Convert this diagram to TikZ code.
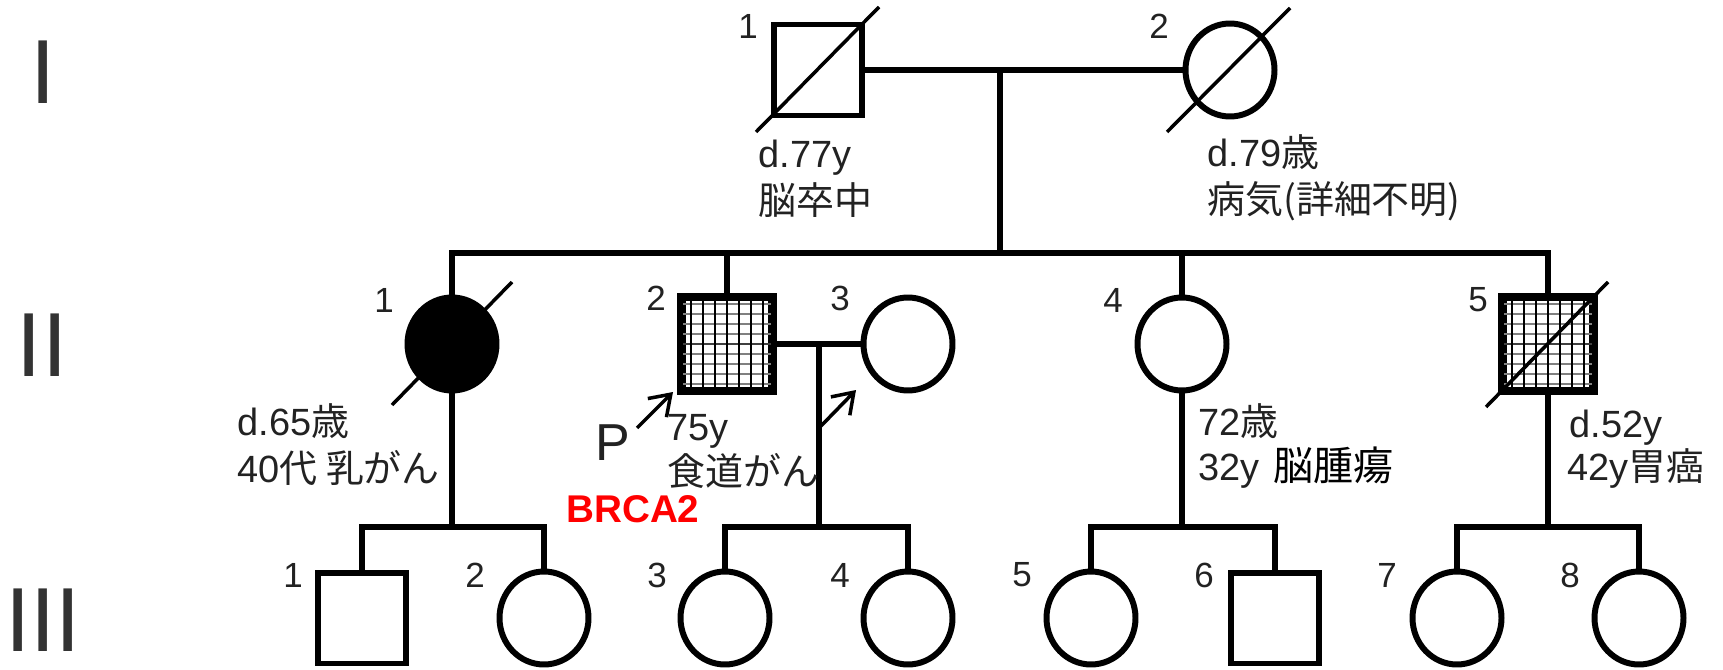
\documentclass[tikz,border=0pt]{standalone}
\usepackage{fontspec}
\setmainfont{Liberation Sans}
\newfontfamily\jp{Noto Sans CJK JP}
\usetikzlibrary{shapes.geometric,arrows.meta}
\definecolor{txt}{HTML}{222222}
\definecolor{brcared}{HTML}{FF0000}
\tikzset{
  ln/.style={line width=3.4pt},
  male/.style={draw, rectangle, minimum width=1.76cm, minimum height=1.82cm, inner sep=0pt, line width=3.4pt, fill=white},
  female/.style={draw, ellipse, minimum width=1.78cm, minimum height=1.86cm, inner sep=0pt, line width=3.4pt, fill=white},
  dead/.style={line width=2pt},
  num/.style={font=\fontsize{19.9pt}{24pt}\selectfont, text=txt, inner sep=0pt},
  lab/.style={font=\fontsize{21.6pt}{26pt}\selectfont, text=txt, inner sep=0pt, anchor=base west},
  gen/.style={font=\fontsize{51.8pt}{60pt}\selectfont, text=black!80, inner sep=0pt},
  parrow/.style={line width=2pt, -{Straight Barb[length=11pt,width=15pt]}},
}
\begin{document}
\begin{tikzpicture}[x=0.02cm, y=-0.02cm, line join=miter]
\useasboundingbox (0,0) rectangle (1723,669);

% generation numerals
\node[gen] (gI) at (43,72) {I};
\node[gen] (gII) at (42,345) {II};
\node[gen] (gIII) at (43,620) {III};

% generation I
\node[male] (I1) at (818,70) {};
\node[female] (I2) at (1230,70) {};
% generation II
\node[female, fill=black] (II1) at (452,344) {};
\node[male] (II2) at (727,344) {};
\node[female] (II3) at (908,344) {};
\node[female] (II4) at (1182,344) {};
\node[male] (II5) at (1548,344) {};
% generation III
\node[male] (III1) at (362,618) {};
\node[female] (III2) at (544,618) {};
\node[female] (III3) at (725,618) {};
\node[female] (III4) at (908,618) {};
\node[female] (III5) at (1091,618) {};
\node[male] (III6) at (1275,618) {};
\node[female] (III7) at (1457,618) {};
\node[female] (III8) at (1639,618) {};

% hatching of affected males
\foreach \n in {II2,II5}{
  \begin{scope}
    \clip ([shift={(3,3)}]\n.north west) rectangle ([shift={(-3,-3)}]\n.south east);
    \foreach \j in {-40,-30,...,40}
      \draw[gray, line width=1.1pt] ([shift={(0,\j)}]\n.west) -- ([shift={(0,\j)}]\n.east);
    \draw[black!75, line width=1.3pt] (\n.west) -- (\n.east);
    \foreach \i in {-36,-24,...,36}
      \draw[black, line width=1.5pt] ([shift={(\i,0)}]\n.north) -- ([shift={(\i,0)}]\n.south);
  \end{scope}
  \draw[line width=3.4pt] (\n.north west) rectangle (\n.south east);
}

% deceased slashes
\draw[dead] ([shift={(-62,62)}]I1.center) -- ([shift={(61,-63)}]I1.center);
\draw[dead] ([shift={(-63,62)}]I2.center) -- ([shift={(60,-62)}]I2.center);
\draw[dead] ([shift={(-60,61)}]II1.center) -- ([shift={(60,-62)}]II1.center);
\draw[dead] ([shift={(-62,63)}]II5.center) -- ([shift={(60,-62)}]II5.center);

% connectors
\coordinate (sI) at (1000,253);
\draw[ln] (I1.east) -- (I2.west);
\draw[ln] (sI |- I1.east) -- (sI);
\draw[ln] (II1.north) |- (sI) -| (II5.north);
\draw[ln] (II2.north) -- (II2.north |- sI);
\draw[ln] (II4.north) -- (II4.north |- sI);

\draw[ln] (II2.east) -- (II3.west);
\coordinate (m23) at (819,344);
\coordinate (s23) at (819,527);
\draw[ln] (m23) -- (s23);
\draw[ln] (III3.north) |- (s23) -| (III4.north);

\coordinate (s1) at (452,527);
\draw[ln] (II1.south) -- (s1);
\draw[ln] (III1.north) |- (s1) -| (III2.north);

\coordinate (s4) at (1182,527);
\draw[ln] (II4.south) -- (s4);
\draw[ln] (III5.north) |- (s4) -| (III6.north);

\coordinate (s5) at (1548,527);
\draw[ln] (II5.south) -- (s5);
\draw[ln] (III7.north) |- (s5) -| (III8.north);

% proband arrows
\coordinate (pa1) at (637,428);
\coordinate (pt1) at (673,392);
\draw[parrow] (pa1) -- (pt1);
\coordinate (pa2) at (820,427);
\coordinate (pt2) at (856,390);
\draw[parrow] (pa2) -- (pt2);

% individual numbers
\node[num] (nI1) at (748,26) {1};
\node[num] (nI2) at (1159,26) {2};
\node[num] (nII1) at (384,300) {1};
\node[num] (nII2) at (656,298) {2};
\node[num] (nII3) at (840,298) {3};
\node[num] (nII4) at (1113,300) {4};
\node[num] (nII5) at (1478,300) {5};
\node[num] (nIII1) at (293,575) {1};
\node[num] (nIII2) at (475,575) {2};
\node[num] (nIII3) at (657,575) {3};
\node[num] (nIII4) at (840,575) {4};
\node[num] (nIII5) at (1022,575) {5};
\node[num] (nIII6) at (1204,575) {6};
\node[num] (nIII7) at (1387,575) {7};
\node[num] (nIII8) at (1570,575) {8};

% annotations
\node[lab] (tI1a) at (758,167) {d.77y};
\node[lab] (tI1b) at (758,214) {\jp 脳卒中};
\node[lab] (tI2a) at (1207,166) {d.79{\jp 歳}};
\node[lab] (tI2b) at (1207,213) {\jp 病気(詳細不明)};
\node[lab] (tII1a) at (237,435) {d.65{\jp 歳}};
\node[lab] (tII1b) at (237,482) {40{\jp 代 乳がん}};
\node[lab] (tII2a) at (667,440) {75y};
\node[lab] (tII2b) at (667,485) {\jp 食道がん};
\node[lab] (tII4a) at (1198,435) {72{\jp 歳}};
\node[lab] (tII4b) at (1198,480) {32y};
\node[lab, text=black, font=\fontsize{22.8pt}{27pt}\selectfont\jp] (tII4c) at (1273,480) {脳腫瘍};
\node[lab] (tII5a) at (1569,437) {d.52y};
\node[lab] (tII5b) at (1567,480) {42y{\jp 胃癌}};
\node[lab, text=brcared, font=\fontsize{22pt}{26pt}\selectfont\bfseries] (brca) at (566,522) {BRCA2};
\node[lab, font=\fontsize{29.6pt}{34pt}\selectfont] (P) at (595,460) {P};
\end{tikzpicture}
\end{document}
